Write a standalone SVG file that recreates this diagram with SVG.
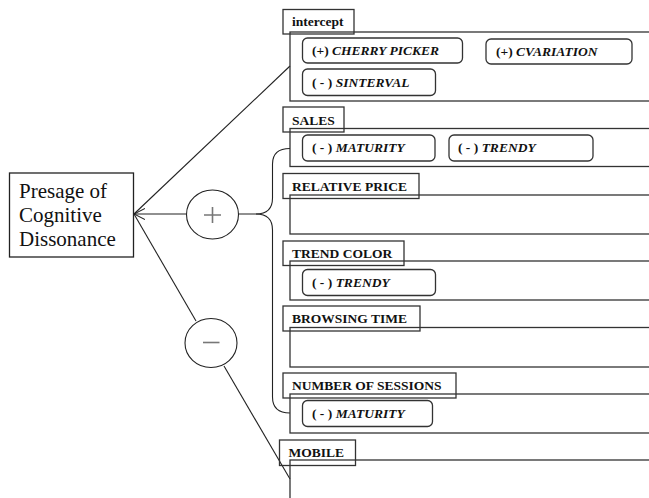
<svg xmlns="http://www.w3.org/2000/svg" width="649" height="498" viewBox="0 0 649 498">
<style>
.bg{fill:#fff}
.box{fill:none;stroke:#333;stroke-width:1.3}
.lbl{fill:none;stroke:#333;stroke-width:1.3}
.pill{fill:none;stroke:#333;stroke-width:1.3}
.lt{font-family:"Liberation Serif","Times New Roman",serif;font-size:13.5px;font-weight:bold;fill:#111}
.it{font-style:italic}
.main{font-family:"Liberation Serif","Times New Roman",serif;font-size:21px;fill:#111}
.ln{fill:none;stroke:#222;stroke-width:1.1}
.op{fill:#fff;stroke:#222;stroke-width:1.1}
.sign{stroke:#777;stroke-width:1.6;fill:none}
</style>
<defs>
<marker id="arr" viewBox="0 0 12 12" refX="11" refY="6" markerWidth="12" markerHeight="12" markerUnits="userSpaceOnUse" orient="auto">
<path d="M0,0.5 L11,6 L0,11.5" fill="none" stroke="#222" stroke-width="1.1"/>
</marker>
</defs>
<rect class="bg" x="0" y="0" width="649" height="498"/>

<g id="main">
<rect x="9.5" y="173" width="124" height="84" fill="#fff" stroke="#222" stroke-width="1.3"/>
<text class="main" x="19" y="198">Presage of</text>
<text class="main" x="19" y="222">Cognitive</text>
<text class="main" x="19" y="246">Dissonance</text>
</g>

<g id="connectors">
<line class="ln" x1="290" y1="66" x2="134" y2="214"/>
<line class="ln" x1="186.5" y1="214" x2="134" y2="214" marker-end="url(#arr)"/>
<line class="ln" x1="134" y1="214" x2="196" y2="321"/>
<line class="ln" x1="224" y1="366" x2="290" y2="479"/>
<path class="ln" d="M238.5,214 H256 Q272.5,214 272.5,198 V164 Q272.5,148.5 290,148.5"/>
<path class="ln" d="M256,214 Q272.5,214 272.5,230 V397 Q272.5,413 290,413"/>
</g>

<g id="plus">
<ellipse class="op" cx="212.5" cy="214.5" rx="26" ry="24.5"/>
<path class="sign" d="M204,215 H221 M212.5,207 V223"/>
</g>

<g id="minus">
<ellipse class="op" cx="211" cy="343" rx="26" ry="24.5"/>
<path class="sign" d="M203,342.5 H219.5"/>
</g>

<g id="intercept">
<rect class="box" x="290" y="32" width="370" height="69"/>
<rect class="lbl" x="283" y="9.5" width="71" height="24.5"/>
<text class="lt" x="292" y="26">intercept</text>
<rect class="pill" x="302.5" y="38" width="160" height="25" rx="5"/>
<text class="lt" x="312" y="55">(+) <tspan class="it">CHERRY PICKER</tspan></text>
<rect class="pill" x="486" y="39" width="146" height="25" rx="5"/>
<text class="lt" x="496" y="56">(+) <tspan class="it">CVARIATION</tspan></text>
<rect class="pill" x="302.5" y="69" width="133" height="26.5" rx="5"/>
<text class="lt" x="312" y="86.5">( - ) <tspan class="it">SINTERVAL</tspan></text>
</g>

<g id="sales">
<rect class="box" x="290" y="128.5" width="370" height="38"/>
<rect class="lbl" x="283" y="107" width="61" height="25"/>
<text class="lt" x="292" y="124.5">SALES</text>
<rect class="pill" x="302.5" y="135" width="132.5" height="26" rx="5"/>
<text class="lt" x="312" y="152">( - ) <tspan class="it">MATURITY</tspan></text>
<rect class="pill" x="449" y="135" width="144" height="26" rx="5"/>
<text class="lt" x="458" y="152">( - ) <tspan class="it">TRENDY</tspan></text>
</g>

<g id="relative-price">
<rect class="box" x="290" y="195" width="370" height="39"/>
<rect class="lbl" x="283" y="173.5" width="136" height="25"/>
<text class="lt" x="292" y="191">RELATIVE PRICE</text>
</g>

<g id="trend-color">
<rect class="box" x="290" y="261" width="370" height="39"/>
<rect class="lbl" x="283" y="241" width="121" height="24.5"/>
<text class="lt" x="292" y="258">TREND COLOR</text>
<rect class="pill" x="302.5" y="269.5" width="133" height="26" rx="5"/>
<text class="lt" x="312" y="286.5">( - ) <tspan class="it">TRENDY</tspan></text>
</g>

<g id="browsing-time">
<rect class="box" x="290" y="327.5" width="370" height="39.5"/>
<rect class="lbl" x="283" y="306" width="137" height="25"/>
<text class="lt" x="292" y="323">BROWSING TIME</text>
</g>

<g id="number-of-sessions">
<rect class="box" x="290" y="394" width="370" height="39"/>
<rect class="lbl" x="283" y="373" width="173" height="25"/>
<text class="lt" x="292" y="390">NUMBER OF SESSIONS</text>
<rect class="pill" x="302.5" y="400.5" width="130" height="26" rx="5"/>
<text class="lt" x="312" y="417.5">( - ) <tspan class="it">MATURITY</tspan></text>
</g>

<g id="mobile">
<rect class="box" x="290" y="460" width="370" height="60"/>
<rect class="lbl" x="279.5" y="440" width="76" height="25.5"/>
<text class="lt" x="288.5" y="457">MOBILE</text>
</g>
</svg>
